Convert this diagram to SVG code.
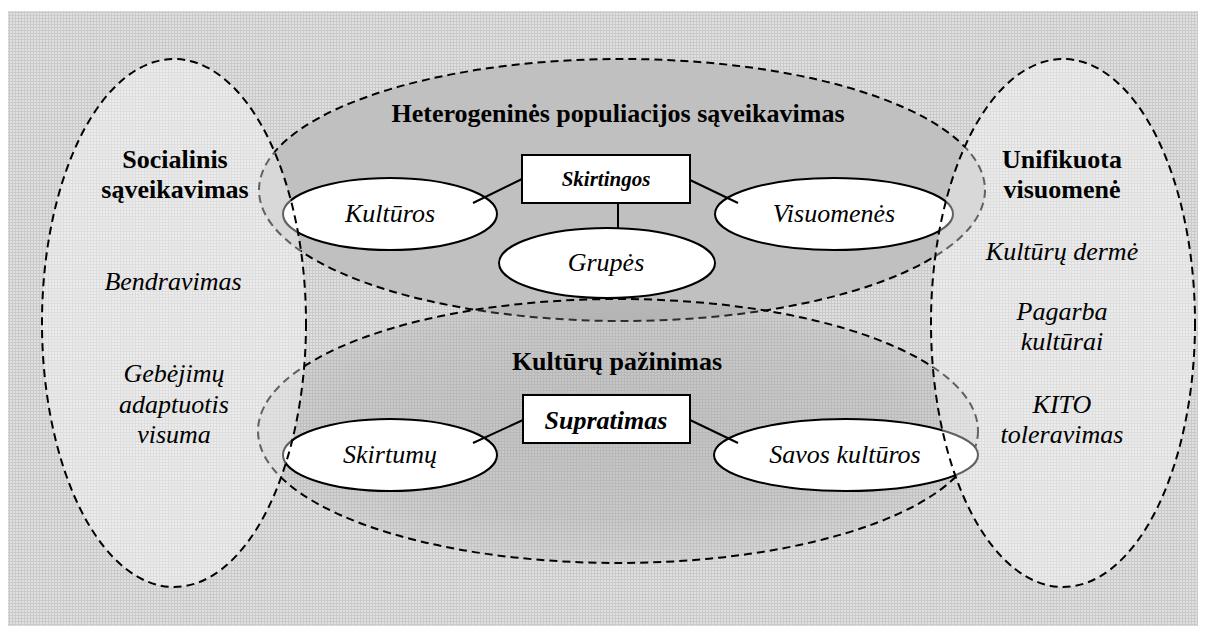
<svg xmlns="http://www.w3.org/2000/svg" width="1207" height="630" viewBox="0 0 1207 630">
  <defs>
    <pattern id="grid" width="3" height="3" patternUnits="userSpaceOnUse">
      <rect width="3" height="3" fill="#e0e0e0"/>
      <path d="M0 0.5H3M0.5 0V3" stroke="#cacaca" stroke-width="1"/>
    </pattern>
    <radialGradient id="botfill" cx="0.5" cy="0.45" r="0.55">
      <stop offset="0" stop-color="#9a9a9a" stop-opacity="0.42"/>
      <stop offset="0.7" stop-color="#9a9a9a" stop-opacity="0.3"/>
      <stop offset="1" stop-color="#9a9a9a" stop-opacity="0.12"/>
    </radialGradient>
    <style>
      .dash{fill:none;stroke:#000;stroke-width:2;stroke-dasharray:8 5}
      .node{fill:#fff;stroke:#000;stroke-width:2}
      .conn{stroke:#000;stroke-width:2;fill:none}
      .side{fill:#fff;fill-opacity:0.38}
      .title{font-family:"Liberation Serif","Times New Roman",serif;font-weight:bold;font-size:26px;fill:#000;text-anchor:middle}
      .it{font-family:"Liberation Serif","Times New Roman",serif;font-style:italic;font-size:26px;fill:#000;text-anchor:middle}
      .bi{font-family:"Liberation Serif","Times New Roman",serif;font-style:italic;font-weight:bold;fill:#000;text-anchor:middle}
    </style>
  </defs>

  <rect x="8" y="11" width="1190" height="615" fill="url(#grid)"/>

  <g id="heterogenines">
    <ellipse cx="622" cy="190" rx="363" ry="131" fill="#c0c0c0"/>
    <ellipse class="dash" cx="622" cy="190" rx="363" ry="131"/>
    <text class="title" x="618" y="122">Heterogeninės populiacijos sąveikavimas</text>
  </g>

  <g id="kulturu-pazinimas">
    <ellipse cx="618" cy="431" rx="360" ry="132" fill="url(#botfill)"/>
    <ellipse class="dash" cx="618" cy="431" rx="360" ry="132"/>
    <text class="title" x="617" y="370">Kultūrų pažinimas</text>
  </g>

  <g id="skirtingos">
    <rect class="node" x="522" y="155" width="168" height="48"/>
    <text class="bi" x="606" y="186" font-size="21">Skirtingos</text>
  </g>
  <g id="kulturos">
    <ellipse class="node" cx="390" cy="214" rx="107" ry="36"/>
    <text class="it" x="390" y="222">Kultūros</text>
  </g>
  <g id="visuomenes">
    <ellipse class="node" cx="834" cy="214" rx="119" ry="36"/>
    <text class="it" x="834" y="222">Visuomenės</text>
  </g>
  <g id="grupes">
    <ellipse class="node" cx="607" cy="263" rx="108" ry="35"/>
    <text class="it" x="606" y="271">Grupės</text>
  </g>
  <g id="supratimas">
    <rect class="node" x="523" y="395" width="167" height="48"/>
    <text class="bi" x="606" y="429" font-size="26">Supratimas</text>
  </g>
  <g id="skirtumu">
    <ellipse class="node" cx="390" cy="455" rx="107" ry="36"/>
    <text class="it" x="390" y="463">Skirtumų</text>
  </g>
  <g id="savos-kulturos">
    <ellipse class="node" cx="846" cy="455" rx="132" ry="36"/>
    <text class="it" x="845" y="463">Savos kultūros</text>
  </g>

  <g id="connectors">
    <line class="conn" x1="522" y1="179" x2="473" y2="203"/>
    <line class="conn" x1="690" y1="180" x2="738" y2="203"/>
    <line class="conn" x1="618" y1="203" x2="618" y2="228"/>
    <line class="conn" x1="523" y1="420" x2="473" y2="443"/>
    <line class="conn" x1="690" y1="420" x2="738" y2="443"/>
  </g>

  <g id="socialinis">
    <ellipse class="side" cx="174" cy="323" rx="132" ry="264"/>
    <ellipse class="dash" cx="174" cy="323" rx="132" ry="264"/>
    <text class="title" x="175" y="168">Socialinis</text>
    <text class="title" x="175" y="198">sąveikavimas</text>
    <text class="it" x="173" y="290">Bendravimas</text>
    <text class="it" x="174" y="382">Gebėjimų</text>
    <text class="it" x="174" y="413">adaptuotis</text>
    <text class="it" x="174" y="443">visuma</text>
  </g>

  <g id="unifikuota">
    <ellipse class="side" cx="1063" cy="323" rx="132" ry="264"/>
    <ellipse class="dash" cx="1063" cy="323" rx="132" ry="264"/>
    <text class="title" x="1062" y="168">Unifikuota</text>
    <text class="title" x="1062" y="198">visuomenė</text>
    <text class="it" x="1062" y="260">Kultūrų dermė</text>
    <text class="it" x="1062" y="320">Pagarba</text>
    <text class="it" x="1062" y="350">kultūrai</text>
    <text class="it" x="1062" y="413">KITO</text>
    <text class="it" x="1062" y="443">toleravimas</text>
  </g>
</svg>
